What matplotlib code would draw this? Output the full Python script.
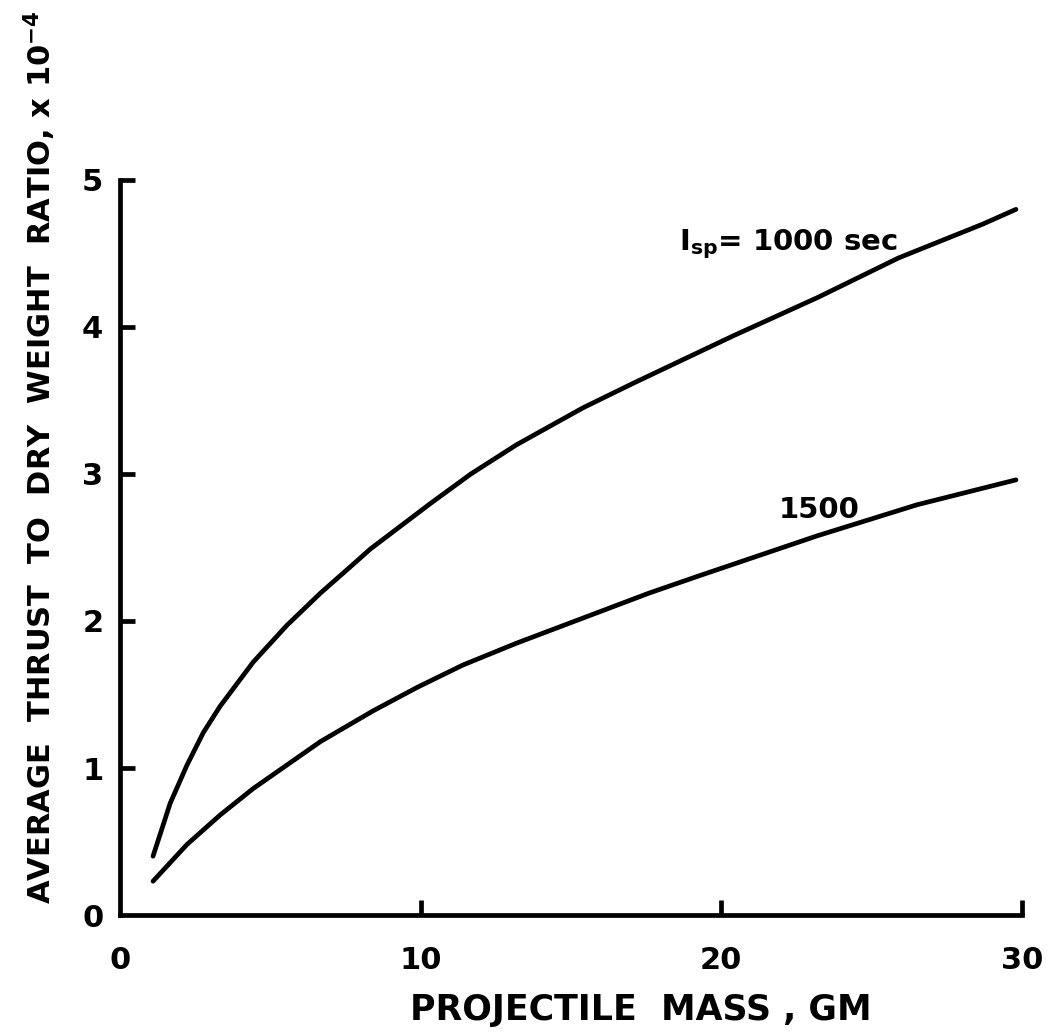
import matplotlib
matplotlib.use("Agg")
import matplotlib.pyplot as plt

# projectile mass, gm
mass_1000 = [1.1, 1.67, 2.23, 2.77, 3.33, 4.43, 5.55, 6.67, 7.67, 8.33, 10.33,
             11.67, 13.2, 15.4, 17.1, 20.4, 23.2, 25.9, 28.7, 29.8]
# thrust to dry weight ratio x 1e-4, Isp = 1000 sec
ratio_1000 = [0.40, 0.76, 1.02, 1.24, 1.42, 1.72, 1.97, 2.19, 2.37, 2.49, 2.80,
              3.00, 3.20, 3.45, 3.62, 3.94, 4.20, 4.47, 4.70, 4.80]

mass_1500 = [1.1, 2.23, 3.33, 4.43, 5.55, 6.67, 8.43, 9.9, 11.4, 13.2, 15.4,
             17.6, 19.3, 23.2, 26.5, 29.8]
ratio_1500 = [0.23, 0.48, 0.68, 0.86, 1.02, 1.18, 1.39, 1.55, 1.70, 1.85, 2.02,
              2.19, 2.31, 2.58, 2.79, 2.96]

x_ticks = [0, 10, 20, 30]
y_ticks = [0, 1, 2, 3, 4, 5]

plt.rcParams['font.family'] = ['DejaVu Sans']
plt.rcParams['font.weight'] = 'bold'
plt.rcParams['mathtext.default'] = 'bf'

fig = plt.figure(figsize=(10.55, 10.33), dpi=100)
ax = fig.add_axes([0.1137, 0.1142, 0.855, 0.7116])

lw = 3.4
for m, r in ((mass_1000, ratio_1000), (mass_1500, ratio_1500)):
    ax.plot(m, r, color='black', lw=lw, solid_capstyle='round',
            solid_joinstyle='round')

ax.set_xlim(0, 30)
ax.set_ylim(0, 5)
ax.spines['top'].set_visible(False)
ax.spines['right'].set_visible(False)
for s in ('left', 'bottom'):
    ax.spines[s].set_linewidth(lw)

ax.set_xticks(x_ticks)
ax.set_yticks(y_ticks)
ax.tick_params(axis='both', direction='in', length=11, width=lw,
               labelsize=22)
ax.tick_params(axis='x', pad=22)
ax.tick_params(axis='y', pad=12)
# no tick mark at the origin
ax.xaxis.get_major_ticks()[0].tick1line.set_visible(False)
ax.yaxis.get_major_ticks()[0].tick1line.set_visible(False)

ax.text(18.6, 4.52, r"I$_{sp}$= 1000 sec", fontsize=21, fontweight='bold')
ax.text(21.9, 2.7, "1500", fontsize=21, fontweight='bold')

fig.text(0.607, 0.022, "PROJECTILE  MASS , GM", fontsize=25,
         fontweight='bold', ha='center', va='center')
fig.text(0.038, 0.557, r"AVERAGE  THRUST  TO  DRY  WEIGHT  RATIO, x 10$^{-4}$",
         fontsize=22, fontweight='bold', rotation=90, ha='center', va='center')

fig.savefig("out.png", dpi=100, facecolor='white')
